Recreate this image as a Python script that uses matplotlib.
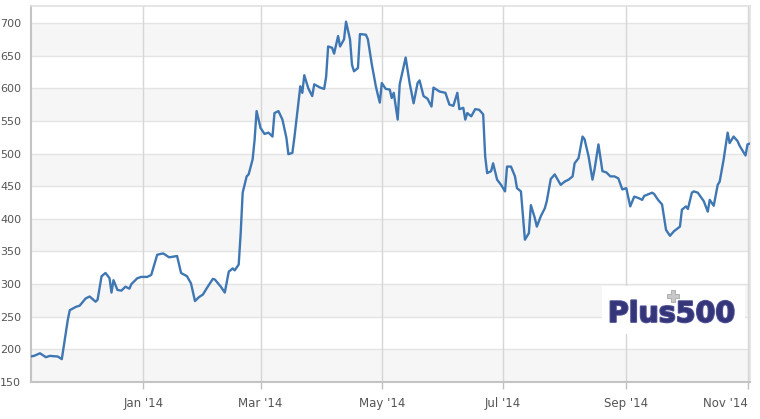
import matplotlib
matplotlib.use("Agg")
import matplotlib.pyplot as plt
import matplotlib.patheffects as pe
from matplotlib.patches import Rectangle
import pandas as pd

# price series (date, value)
dates = [
    "2013-11-05", "2013-11-07", "2013-11-10", "2013-11-13", "2013-11-15", "2013-11-19",
    "2013-11-21", "2013-11-24", "2013-11-25", "2013-11-28", "2013-11-30", "2013-12-03",
    "2013-12-05", "2013-12-08", "2013-12-09", "2013-12-11", "2013-12-13", "2013-12-15",
    "2013-12-16", "2013-12-17", "2013-12-19", "2013-12-21", "2013-12-23", "2013-12-25",
    "2013-12-26", "2013-12-29", "2013-12-31", "2014-01-03", "2014-01-05", "2014-01-08",
    "2014-01-11", "2014-01-14", "2014-01-18", "2014-01-20", "2014-01-23", "2014-01-25",
    "2014-01-27", "2014-01-29", "2014-01-31", "2014-02-02", "2014-02-05", "2014-02-06",
    "2014-02-09", "2014-02-11", "2014-02-13", "2014-02-15", "2014-02-16", "2014-02-18",
    "2014-02-19", "2014-02-20", "2014-02-22", "2014-02-23", "2014-02-25", "2014-02-26",
    "2014-02-27", "2014-03-01", "2014-03-03", "2014-03-05", "2014-03-07", "2014-03-08",
    "2014-03-10", "2014-03-12", "2014-03-14", "2014-03-15", "2014-03-17", "2014-03-18",
    "2014-03-21", "2014-03-22", "2014-03-23", "2014-03-25", "2014-03-27", "2014-03-28",
    "2014-03-31", "2014-04-02", "2014-04-03", "2014-04-04", "2014-04-06", "2014-04-07",
    "2014-04-09", "2014-04-10", "2014-04-12", "2014-04-13", "2014-04-15", "2014-04-16",
    "2014-04-17", "2014-04-19", "2014-04-20", "2014-04-23", "2014-04-24", "2014-04-26",
    "2014-04-28", "2014-04-29", "2014-04-30", "2014-05-01", "2014-05-03", "2014-05-05",
    "2014-05-06", "2014-05-07", "2014-05-09", "2014-05-10", "2014-05-13", "2014-05-15",
    "2014-05-17", "2014-05-19", "2014-05-20", "2014-05-22", "2014-05-24", "2014-05-26",
    "2014-05-27", "2014-05-30", "2014-06-02", "2014-06-04", "2014-06-06", "2014-06-08",
    "2014-06-09", "2014-06-11", "2014-06-12", "2014-06-13", "2014-06-15", "2014-06-17",
    "2014-06-19", "2014-06-21", "2014-06-22", "2014-06-23", "2014-06-25", "2014-06-26",
    "2014-06-28", "2014-06-30", "2014-07-02", "2014-07-03", "2014-07-05", "2014-07-07",
    "2014-07-08", "2014-07-10", "2014-07-12", "2014-07-14", "2014-07-15", "2014-07-17",
    "2014-07-18", "2014-07-20", "2014-07-22", "2014-07-23", "2014-07-25", "2014-07-27",
    "2014-07-30", "2014-08-01", "2014-08-03", "2014-08-05", "2014-08-06", "2014-08-08",
    "2014-08-10", "2014-08-11", "2014-08-13", "2014-08-15", "2014-08-16", "2014-08-18",
    "2014-08-20", "2014-08-22", "2014-08-24", "2014-08-26", "2014-08-28", "2014-08-30",
    "2014-09-01", "2014-09-03", "2014-09-05", "2014-09-07", "2014-09-09", "2014-09-10",
    "2014-09-14", "2014-09-15", "2014-09-17", "2014-09-19", "2014-09-21", "2014-09-23",
    "2014-09-25", "2014-09-28", "2014-09-29", "2014-10-01", "2014-10-02", "2014-10-04",
    "2014-10-05", "2014-10-07", "2014-10-10", "2014-10-12", "2014-10-13", "2014-10-15",
    "2014-10-17", "2014-10-18", "2014-10-20", "2014-10-22", "2014-10-23", "2014-10-25",
    "2014-10-27", "2014-10-28", "2014-10-31", "2014-11-01", "2014-11-02",
]
prices = [
    189, 190, 194, 188, 190, 189,
    185, 245, 260, 265, 267, 278,
    281, 273, 276, 312, 317, 309,
    287, 306, 291, 290, 296, 293,
    300, 309, 311, 311, 314, 345,
    347, 341, 343, 317, 312, 301,
    274, 280, 284, 294, 308, 307,
    296, 287, 319, 324, 321, 330,
    378, 440, 465, 468, 491, 521,
    565, 539, 530, 532, 526, 562,
    565, 552, 524, 499, 501, 524,
    603, 593, 620, 600, 588, 606,
    601, 599, 618, 664, 662, 653,
    680, 664, 675, 702, 675, 636,
    626, 631, 683, 682, 675, 636,
    603, 590, 578, 608, 599, 598,
    585, 593, 552, 606, 647, 608,
    577, 608, 612, 588, 584, 572,
    601, 595, 593, 575, 573, 593,
    568, 570, 552, 562, 557, 568,
    567, 560, 496, 470, 473, 485,
    460, 452, 442, 480, 480, 465,
    447, 442, 368, 378, 421, 401,
    388, 404, 416, 427, 461, 468,
    452, 457, 460, 465, 485, 493,
    526, 522, 496, 460, 475, 514,
    473, 471, 465, 465, 462, 445,
    447, 419, 434, 432, 429, 435,
    440, 438, 429, 422, 383, 374,
    381, 388, 414, 419, 415, 440,
    442, 440, 427, 411, 429, 420,
    452, 457, 491, 532, 516, 526,
    519, 512, 497, 514, 515,
]

tick_dates = ["2014-01-01", "2014-03-01", "2014-05-01", "2014-07-01", "2014-09-01", "2014-11-01"]
tick_labels = ["Jan '14", "Mar '14", "May '14", "Jul '14", "Sep '14", "Nov '14"]
y_ticks = [150, 200, 250, 300, 350, 400, 450, 500, 550, 600, 650, 700]

x = pd.to_datetime(dates)

fig = plt.figure(figsize=(7.6, 4.19), dpi=100)
ax = fig.add_axes([31 / 760, 37 / 419, 719 / 760, 376 / 419])

# alternating bands
for i, lo in enumerate(y_ticks[:-1]):
    if i % 2 == 0:
        ax.axhspan(lo, lo + 50, color="#f6f6f6", zorder=0, lw=0)

for yv in y_ticks:
    ax.axhline(yv, color="#e4e4e4", lw=1, zorder=1)
for d in pd.to_datetime(tick_dates):
    ax.axvline(d, color="#d6d6d6", lw=1, zorder=1)

ax.plot(x, prices, color="#3f77b3", lw=1.7, zorder=3, solid_joinstyle="round")

ax.set_xlim(pd.Timestamp("2013-11-05 12:00"), pd.Timestamp("2014-11-02 06:00"))
ax.set_ylim(150, 726)
ax.set_yticks(y_ticks)
ax.set_xticks(pd.to_datetime(tick_dates))
ax.set_xticklabels(tick_labels)
ax.get_xticklabels()[-1].set_horizontalalignment("right")
ax.tick_params(axis="y", length=0, pad=7, labelsize=8, labelcolor="#555555")
ax.tick_params(axis="x", length=5, width=1, color="#c0c0c0", pad=6,
               labelsize=8.5, labelcolor="#555555")

for side in ["top", "right"]:
    ax.spines[side].set_color("#e0e0e0")
    ax.spines[side].set_linewidth(1.2)
for side in ["left", "bottom"]:
    ax.spines[side].set_color("#c4c4c4")
    ax.spines[side].set_linewidth(1.5)

# Plus500 watermark on a white patch
ax.add_patch(Rectangle((0.794, 0.128), 0.199, 0.127, transform=ax.transAxes,
                       fc="white", ec="none", zorder=4))
ax.text(0.891, 0.181, "Plus500", transform=ax.transAxes, ha="center", va="center",
        fontsize=20.5, fontweight="heavy", color="#35357a", zorder=5,
        path_effects=[pe.withStroke(linewidth=1.4, foreground="#55559a")])
ax.plot([0.893], [0.229], marker="P", ms=9, color="#c8c8c8", mec="#a8a8a8",
        mew=0.6, transform=ax.transAxes, zorder=6, clip_on=False)

fig.savefig("out.png", dpi=100)
